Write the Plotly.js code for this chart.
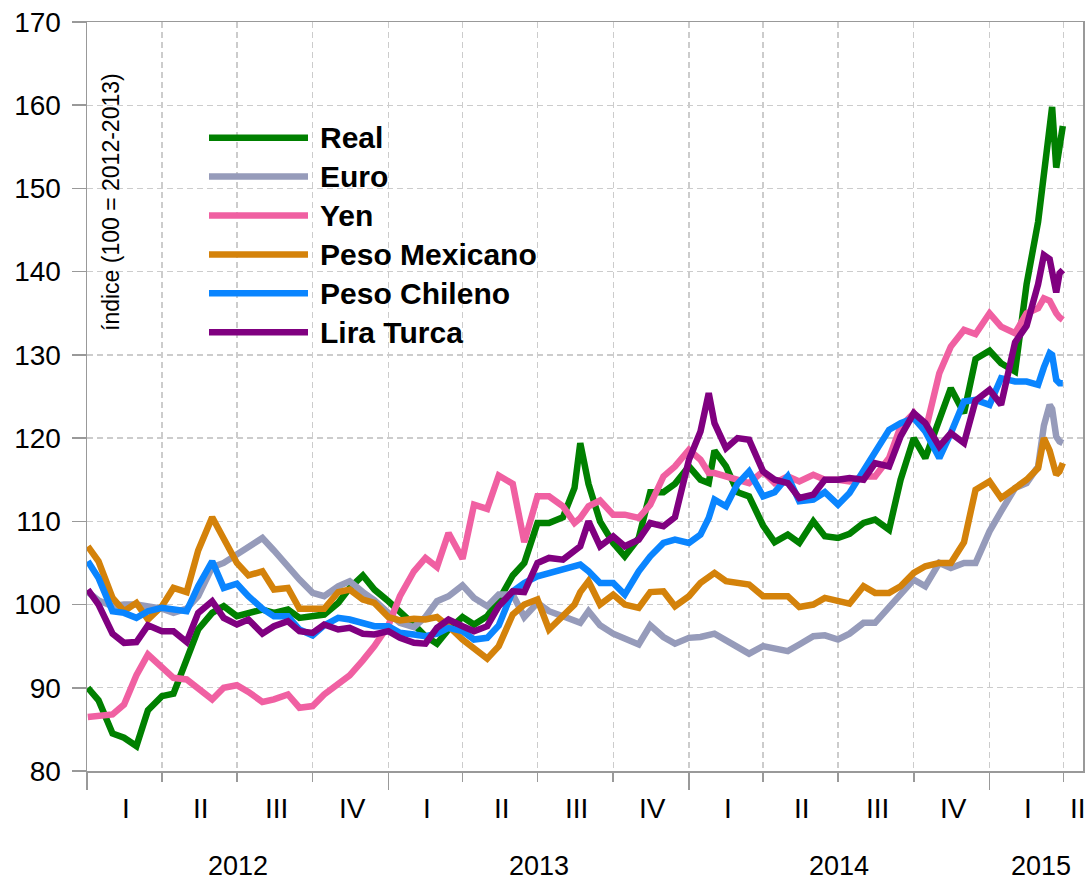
<!DOCTYPE html>
<html>
<head>
<meta charset="utf-8">
<script src="https://cdn.plot.ly/plotly-3.0.1.min.js"></script>
<style>
html,body{margin:0;padding:0;background:#fff;}
#chart{width:1087px;height:885px;}
</style>
</head>
<body>
<div id="chart"></div>
<script>
// ---------------- DATA ----------------
const dates = [
  "2012-01-02","2012-01-15","2012-02-01","2012-02-15","2012-03-01","2012-03-15","2012-04-01","2012-04-15","2012-05-01","2012-05-15","2012-06-01","2012-06-15",
  "2012-07-01","2012-07-15","2012-08-01","2012-08-15","2012-09-01","2012-09-15","2012-10-01","2012-10-15","2012-11-01","2012-11-15","2012-12-01","2012-12-15",
  "2013-01-01","2013-01-15","2013-02-01","2013-02-15","2013-03-01","2013-03-15","2013-04-01","2013-04-15","2013-05-01","2013-05-15","2013-06-01","2013-06-15",
  "2013-07-01","2013-07-15","2013-08-01","2013-08-15","2013-08-22","2013-09-01","2013-09-15","2013-10-01","2013-10-15","2013-11-01","2013-11-15","2013-12-01","2013-12-15",
  "2014-01-01","2014-01-15","2014-01-25","2014-02-01","2014-02-15","2014-03-01","2014-03-15","2014-04-01","2014-04-15","2014-05-01","2014-05-15","2014-06-01","2014-06-15",
  "2014-07-01","2014-07-15","2014-08-01","2014-08-15","2014-09-01","2014-09-15","2014-10-01","2014-10-15","2014-11-01","2014-11-15","2014-12-01","2014-12-15",
  "2015-01-01","2015-01-15","2015-02-01","2015-02-15","2015-03-01","2015-03-08","2015-03-15","2015-03-18","2015-03-23","2015-03-27","2015-03-31"
];

const real = [
  90, 88.5, 84.5, 84, 83, 87.3, 89, 89.3, 93.4, 97, 99, 99.8,
  98.6, 99, 99.4, 99, 99.4, 98.4, 98.6, 98.8, 100.2, 102, 103.5, 101.8,
  100.4, 99.2, 97.6, 96.2, 95.3, 97, 98.5, 97.6, 98.6, 100.5, 103.5, 105,
  109.8, 109.8, 110.5, 114, 119.4, 114.5, 110, 107.4, 105.8, 108, 113.5, 113.5, 114.5,
  116.6, 115, 114.6, 118.5, 116.6, 113.5, 113, 109.5, 107.5, 108.4, 107.4, 110, 108.2,
  108, 108.5, 109.8, 110.2, 109, 115, 120, 117.6, 122, 126, 123, 129.5,
  130.5, 129, 128, 138.5, 146, 152, 157.5, 159.8, 152.5, 155.5, 157.5
];

const euro = [
  101.5, 100.5, 99.8, 100, 100, 99.7, 99.5, 99, 99.5, 101, 104.5, 105,
  106, 107, 108, 106.5, 104.5, 103, 101.4, 101, 102.2, 102.8, 101.5, 100.5,
  99, 97.8, 97.3, 98.5, 100.4, 101, 102.3, 100.8, 99.8, 101.2, 101.2, 98.5,
  100.2, 99.2, 98.6, 98, 97.8, 99.2, 97.5, 96.5, 96, 95.2, 97.5, 96.1, 95.3,
  96, 96.1, 96.3, 96.5, 95.7, 94.8, 94.1, 95, 94.7, 94.4, 95.2, 96.2, 96.3,
  95.8, 96.5, 97.8, 97.8, 99.6, 101.2, 103, 102.2, 105, 104.4, 105, 105,
  108.8, 111.2, 114, 114.6, 116.6, 121.5, 124, 123.5, 120.2, 119.6, 119.4
];

const yen = [
  86.5, 86.6, 86.8, 88, 91.5, 94, 92.5, 91.2, 91, 90, 88.6, 90,
  90.3, 89.5, 88.3, 88.6, 89.2, 87.6, 87.8, 89.2, 90.5, 91.5, 93.3, 95,
  97.5, 101, 104, 105.6, 104.5, 108.6, 105.5, 112, 111.5, 115.5, 114.5, 107.5,
  113, 113, 111.8, 109.8, 110.4, 111.8, 112.5, 110.8, 110.8, 110.4, 112, 115.4, 116.6,
  118.6, 117.4, 115.8, 115.8, 115.4, 115, 114.6, 116, 114.6, 115.4, 114.8, 115.6, 115,
  115, 114.8, 115.4, 115.4, 117.6, 121.4, 123, 120.8, 127.8, 131, 133, 132.5,
  135, 133.4, 132.6, 135, 135.6, 136.8, 136.5, 135.8, 135, 134.5, 134.2
];

const pesoMexicano = [
  107, 105.2, 100.8, 99.2, 100.2, 98.2, 99.8, 102, 101.5, 106.5, 110.5, 107.8,
  105, 103.5, 104, 101.8, 102, 99.5, 99.6, 99.5, 101.5, 101.8, 100.6, 100.2,
  98.5, 98.1, 98.3, 98.2, 98.5, 97.4, 95.8, 94.8, 93.5, 95, 98.8, 100,
  100.6, 97, 98.8, 100, 101.5, 102.8, 100, 101.2, 100, 99.6, 101.5, 101.6, 99.8,
  101, 102.6, 103.2, 103.8, 102.8, 102.6, 102.4, 101, 101, 101, 99.7, 100, 100.8,
  100.4, 100.1, 102.2, 101.4, 101.4, 102.2, 103.8, 104.6, 105, 105, 107.5, 113.8,
  114.8, 112.8, 114, 115, 116.4, 120, 118.5, 117.5, 115.6, 116, 117
];

const pesoChileno = [
  105.2, 103.2, 99.2, 99, 98.4, 99.2, 99.6, 99.4, 99.2, 102.2, 105.2, 102,
  102.5, 101, 99.5, 98.6, 98.6, 97, 96.3, 97.5, 98.4, 98.2, 97.8, 97.4,
  97.4, 96.6, 96.4, 96.2, 96.5, 97.2, 96.8, 95.8, 96, 97.5, 101.6, 102.6,
  103.4, 103.8, 104.2, 104.8, 104.8, 104, 102.6, 102.6, 101.2, 104, 105.8, 107.4, 107.8,
  107.4, 108.4, 110.4, 112.6, 111.8, 114.5, 116, 113, 113.5, 115.4, 112.4, 112.6, 113.5,
  112, 113.4, 116, 118.4, 121, 121.8, 122.4, 120.8, 117.6, 120.6, 124.4, 124.6,
  124, 127.2, 126.8, 126.8, 126.4, 128.5, 130.2, 130, 127, 126.6, 126.6
];

const liraTurca = [
  101.8, 100, 96.5, 95.4, 95.5, 97.5, 96.8, 96.8, 95.5, 99, 100.4, 98.4,
  97.6, 98.2, 96.5, 97.4, 98, 96.8, 96.6, 97.6, 97, 97.2, 96.5, 96.4,
  96.8, 96, 95.4, 95.3, 97.2, 98.2, 97.4, 96.8, 97.4, 99.8, 101.6, 101.5,
  105, 105.6, 105.4, 106.5, 107, 110, 107, 108.2, 107, 107.8, 109.8, 109.4, 110.5,
  117.4, 120.8, 125.4, 121.8, 118.8, 120, 119.8, 116, 115, 114.6, 112.8, 113.2, 115,
  115, 115.2, 115, 117, 116.6, 120.2, 123, 121.8, 119, 120.6, 119.4, 124.5,
  125.8, 124, 131.5, 133.5, 138.5, 142, 141.5, 140, 137.5, 139.8, 140.2
];

const seriesNames = ["Real", "Euro", "Yen", "Peso Mexicano", "Peso Chileno", "Lira Turca"];
const seriesValues = [real, euro, yen, pesoMexicano, pesoChileno, liraTurca];

const yTicks = [80, 90, 100, 110, 120, 130, 140, 150, 160, 170];
const quarterNames = ["I", "II", "III", "IV"];
const quarterStarts = [
  "2012-01-01","2012-04-01","2012-07-01","2012-10-01",
  "2013-01-01","2013-04-01","2013-07-01","2013-10-01",
  "2014-01-01","2014-04-01","2014-07-01","2014-10-01",
  "2015-01-01","2015-04-01"
];
const yearStarts = ["2012-01-01","2013-01-01","2014-01-01","2015-01-01"];
const yearLabels = ["2012","2013","2014","2015"];
const yTitle = "índice (100 = 2012-2013)";

// ---------------- STYLE ----------------
const colors = ["#008000", "#969bba", "#f060a2", "#d4820a", "#0a85ff", "#800080"];
const FONT = "Liberation Sans, Arial, sans-serif";
const NARROW = "Liberation Sans Narrow, Arial Narrow, Liberation Sans, Arial, sans-serif";
const xRange = ["2012-01-01", "2015-04-24 12:00"];
const axisColor = "#999999";
const gridColor = "#cccccc";
const gridDash = "6px,4px";

const M = {l: 87, r: 4, t: 22, b: 114};
const plotH = 885 - M.t - M.b;
const plotW = 1087 - M.l - M.r;
const pyFromPx = px => (885 - M.b - px) / plotH;
const pxFromPx = px => (px - M.l) / plotW;

const traces = seriesNames.map((name, i) => ({
  type: "scatter",
  mode: "lines",
  name: name,
  x: dates,
  y: seriesValues[i],
  line: {color: colors[i], width: 6.5, shape: "linear"},
  hoverinfo: "skip",
  showlegend: false
}));

const annotations = [];
const shapes = [];

const endMs = new Date(xRange[1].replace(" ", "T") + "Z").getTime();
const ms = s => new Date(s + "T00:00:00Z").getTime();
const iso = t => new Date(t).toISOString().slice(0, 19).replace("T", " ");
// quarter labels, centred in each quarter (last one within the visible range)
for (let i = 0; i < quarterStarts.length; i++) {
  const a = ms(quarterStarts[i]);
  const b = i + 1 < quarterStarts.length ? ms(quarterStarts[i + 1]) : endMs + 14 * 864e5;
  const mid = Math.min((a + b) / 2 + 2 * 864e5, endMs - 6 * 864e5);
  annotations.push({
    x: iso(mid), xref: "x", y: pyFromPx(808), yref: "paper",
    text: quarterNames[i % 4], showarrow: false,
    xanchor: "center", yanchor: "middle",
    font: {family: NARROW, size: 28, color: "#000"}
  });
}
// year labels
for (let i = 0; i < yearStarts.length; i++) {
  const a = ms(yearStarts[i]);
  const b = i + 1 < yearStarts.length ? ms(yearStarts[i + 1]) : endMs;
  const mid = (a + Math.min(b, endMs)) / 2 + (i === yearStarts.length - 1 ? 6 * 864e5 : 0);
  annotations.push({
    x: iso(mid), xref: "x", y: pyFromPx(866), yref: "paper",
    text: yearLabels[i], showarrow: false,
    xanchor: "center", yanchor: "middle",
    font: {family: FONT, size: 27, color: "#000"}
  });
}
// y-axis title inside the plot
annotations.push({
  x: pxFromPx(111), xref: "paper", y: pyFromPx(202), yref: "paper",
  text: yTitle, textangle: -90, showarrow: false,
  xanchor: "center", yanchor: "middle",
  font: {family: FONT, size: 23, color: "#000"}
});
// legend drawn as line samples + bold labels
seriesNames.forEach((name, i) => {
  const yPx = 137.7 + 38.9 * i;
  shapes.push({
    type: "line", xref: "paper", yref: "paper",
    x0: pxFromPx(209), x1: pxFromPx(308), y0: pyFromPx(yPx), y1: pyFromPx(yPx),
    line: {color: colors[i], width: 6.5}
  });
  annotations.push({
    x: pxFromPx(318), xref: "paper", y: pyFromPx(yPx), yref: "paper",
    text: "<b>" + name + "</b>", showarrow: false,
    xanchor: "left", yanchor: "middle",
    font: {family: FONT, size: 30, color: "#000"}
  });
});

const layout = {
  width: 1087, height: 885,
  margin: {l: M.l, r: M.r, t: M.t, b: M.b, pad: 0},
  paper_bgcolor: "#ffffff", plot_bgcolor: "#ffffff",
  showlegend: false,
  font: {family: FONT, color: "#000"},
  xaxis: {
    type: "date", range: xRange, fixedrange: true,
    tickmode: "array", tickvals: yearStarts, showticklabels: false,
    ticks: "outside", ticklen: 17, tickwidth: 1.5, tickcolor: axisColor,
    showgrid: true, gridcolor: gridColor, gridwidth: 1.3, griddash: gridDash,
    minor: {
      tick0: "2012-01-01", dtick: "M3",
      ticks: "outside", ticklen: 9, tickwidth: 1.5, tickcolor: axisColor,
      showgrid: true, gridcolor: gridColor, gridwidth: 1.3, griddash: gridDash
    },
    showline: true, linecolor: axisColor, linewidth: 1.5, mirror: true,
    zeroline: false
  },
  yaxis: {
    range: [80, 170], fixedrange: true,
    tickmode: "array", tickvals: yTicks,
    ticks: "outside", ticklen: 14, tickwidth: 1.5, tickcolor: axisColor,
    tickfont: {family: FONT, size: 28, color: "#000"},
    ticklabelstandoff: 5,
    showgrid: true, gridcolor: gridColor, gridwidth: 1.3, griddash: gridDash,
    showline: true, linecolor: axisColor, linewidth: 1.5, mirror: true,
    zeroline: false
  },
  annotations: annotations,
  shapes: shapes
};

Plotly.newPlot("chart", traces, layout, {staticPlot: true, displayModeBar: false});
</script>
</body>
</html>
